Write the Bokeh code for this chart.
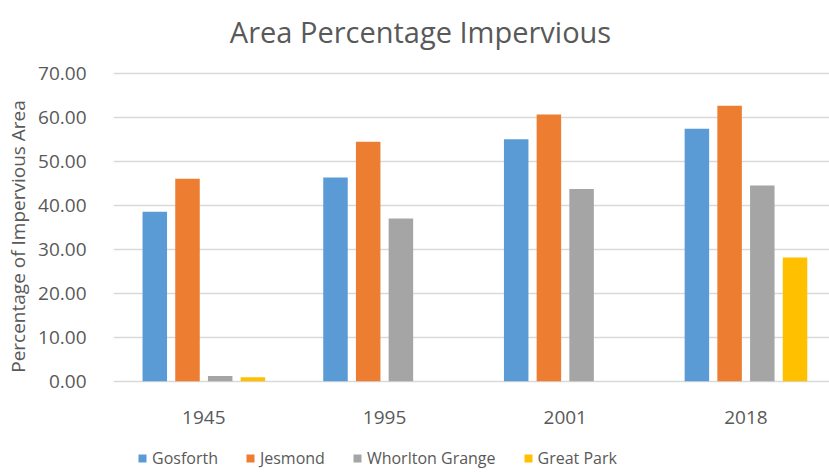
import numpy as np
from bokeh.plotting import figure
from bokeh.models import (ColumnDataSource, Range1d, FixedTicker, NumeralTickFormatter,
                          Legend, LegendItem, Label)
from bokeh.core.properties import value
from bokeh.embed import file_html
from bokeh.resources import INLINE

years = ["1945", "1995", "2001", "2018"]
series = ["Gosforth", "Jesmond", "Whorlton Grange", "Great Park"]
gosforth = [38.5, 46.3, 55.0, 57.4]
jesmond = [46.0, 54.4, 60.6, 62.6]
whorlton = [1.2, 37.0, 43.7, 44.5]
great_park = [0.9, 0.0, 0.0, 28.1]
y_ticks = [0, 10, 20, 30, 40, 50, 60, 70]

values = [gosforth, jesmond, whorlton, great_park]
colors = ["#5B9BD5", "#ED7D31", "#A5A5A5", "#FFC000"]
TXT = "#595959"
FONT = "Open Sans"

# layout geometry (pixels)
W, H = 829, 472
LEFT = 113
PX_TOP, PX_ZERO = 72.7, 380.7          # pixel rows of the 70 and 0 gridlines
px_per_unit = (PX_ZERO - PX_TOP) / 70.0
y_lo = -(H - PX_ZERO) / px_per_unit
y_hi = 70.0 + PX_TOP / px_per_unit
cat_px = 180.7
x_hi = (W - LEFT) / cat_px

p = figure(width=W, height=H, output_backend="svg", toolbar_location=None,
           x_range=Range1d(0, x_hi), y_range=Range1d(y_lo, y_hi),
           x_axis_location=None,
           min_border_left=LEFT, min_border_right=0, min_border_top=0,
           min_border_bottom=0)
p.outline_line_color = None
p.background_fill_color = "white"
p.border_fill_color = "white"

pitch = 0.181
bw = 0.1356
idx = np.arange(len(years))
items = []
for k, (name, vals, col) in enumerate(zip(series, values, colors)):
    src = ColumnDataSource(dict(x=idx + 0.5 + (k - 1.5) * pitch, top=vals))
    r = p.vbar(x="x", top="top", width=bw, source=src, fill_color=col, line_color=None)
    items.append(LegendItem(label=name, renderers=[r]))

# category labels under the zero line
lab_src = ColumnDataSource(dict(x=idx + 0.5, y=np.zeros(len(years)), t=years))
p.text(x="x", y="y", text="t", source=lab_src, y_offset=36,
       text_align="center", text_baseline="alphabetic",
       text_font=value(FONT), text_font_size="19px", text_color=TXT)

# y axis
p.yaxis.ticker = FixedTicker(ticks=y_ticks)
p.yaxis.formatter = NumeralTickFormatter(format="0.00")
ax = p.yaxis[0]
ax.major_tick_line_color = None
ax.minor_tick_line_color = None
ax.axis_line_color = None
ax.major_label_text_font = FONT
ax.major_label_text_font_size = "19px"
ax.major_label_text_color = TXT
ax.major_label_standoff = 21
ax.axis_label = "Percentage of Impervious Area"
ax.axis_label_text_font = FONT
ax.axis_label_text_font_size = "19px"
ax.axis_label_text_font_style = "normal"
ax.axis_label_text_color = TXT
ax.axis_label_standoff = 4

p.xgrid.grid_line_color = None
p.ygrid.grid_line_color = "#D9D9D9"
p.ygrid.grid_line_width = 1.5

title = Label(x=420 - LEFT, y=H - 31, x_units="screen", y_units="screen",
              text="Area Percentage Impervious", text_align="center",
              text_baseline="alphabetic", text_font=FONT, text_font_size="29px",
              text_color=TXT)
p.add_layout(title)

legend = Legend(items=items, orientation="horizontal", location=(24, 3),
                border_line_color=None, background_fill_alpha=0,
                padding=0, margin=0, spacing=27, label_standoff=5,
                glyph_width=10, glyph_height=10,
                label_text_font=FONT, label_text_font_size="16px",
                label_text_color=TXT)
p.add_layout(legend, "center")

open("out.html", "w").write(file_html(p, INLINE))
